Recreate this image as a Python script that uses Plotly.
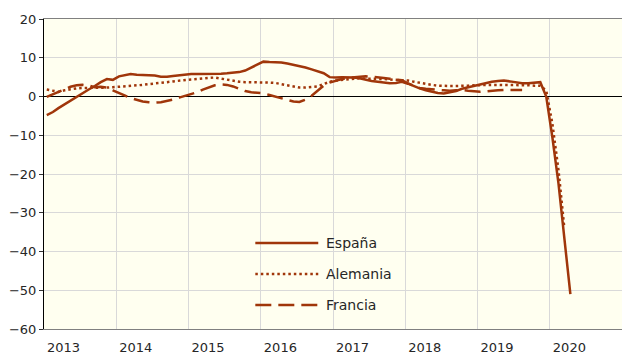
import pandas as pd
import plotly.graph_objects as go

# Monthly series, mid-month, from January 2013
espana = [
    -4.8, -4.0, -3.0, -2.0, -1.1, -0.1, 0.9, 1.8, 2.7, 3.7, 4.5, 4.3,
    5.2, 5.6, 5.8, 5.6, 5.5, 5.4, 5.4, 5.1, 5.1, 5.3, 5.5, 5.7,
    5.8, 5.8, 5.8, 5.8, 5.8, 5.9, 6.0, 6.1, 6.3, 6.7, 7.5, 8.4,
    9.0, 8.9, 8.9, 8.8, 8.5, 8.2, 7.8, 7.5, 7.0, 6.5, 6.0, 5.0,
    4.9, 5.0, 5.0, 4.9, 4.7, 4.3, 4.0, 3.8, 3.6, 3.4, 3.5, 3.8,
    3.3, 2.6, 2.1, 1.6, 1.2, 0.9, 0.8, 1.1, 1.4, 2.0, 2.4, 2.7,
    3.1, 3.5, 3.8, 4.0, 4.1, 3.9, 3.6, 3.4, 3.4, 3.5, 3.7, 0.0,
    -10.5, -22.5, -36.0, -51.0,
]
alemania = [
    1.8, 1.4, 1.2, 1.6, 1.9, 2.1, 2.2, 2.2, 2.3, 2.3, 2.3, 2.4,
    2.5, 2.7, 2.8, 2.9, 3.0, 3.2, 3.3, 3.5, 3.7, 3.9, 4.1, 4.3,
    4.4, 4.5, 4.7, 4.8, 4.9, 4.6, 4.3, 4.0, 3.8, 3.7, 3.7, 3.7,
    3.7, 3.6, 3.5, 3.2, 2.8, 2.5, 2.3, 2.3, 2.4, 2.6, 3.2, 3.8,
    4.1, 4.3, 4.5, 4.6, 4.7, 4.6, 4.6, 4.5, 4.5, 4.4, 4.3, 4.3,
    4.1, 3.8, 3.5, 3.2, 3.0, 2.8, 2.7, 2.7, 2.7, 2.7, 2.8, 2.9,
    3.0, 3.0, 3.0, 3.0, 3.0, 3.0, 3.0, 2.9, 2.9, 2.8, 2.8, 1.5,
    -7.0, -19.0, -33.7,
]
francia = [
    -0.1, 0.6, 1.3, 2.0, 2.5, 2.9, 3.0, 2.8, 2.4, 2.5, 2.3, 1.6,
    0.8, 0.2, -0.4, -0.9, -1.3, -1.5, -1.6, -1.5, -1.2, -0.8, -0.3, 0.1,
    0.5, 1.1, 1.8, 2.4, 2.9, 3.1, 3.0, 2.6, 2.0, 1.4, 1.1, 1.0,
    0.8, 0.4, 0.0, -0.4, -0.9, -1.3, -1.4, -0.8, 0.2, 1.6, 2.8, 3.6,
    4.1, 4.5, 4.8, 5.0, 5.1, 5.2, 5.1, 5.0, 4.8, 4.6, 4.4, 4.2,
    3.4, 2.7, 2.2, 2.0, 1.8, 1.7, 1.6, 1.5, 1.6, 1.7, 1.5, 1.3,
    1.2, 1.3, 1.5, 1.6, 1.7, 1.7, 1.7, 1.7,
]

series_names = ["España", "Alemania", "Francia"]
series_values = [espana, alemania, francia]
series_dash = ["solid", "2.5px,3px", "16px,7px"]

years = [2013, 2014, 2015, 2016, 2017, 2018, 2019, 2020]
year_labels = [str(y) for y in years]

COLOR = "#a0360a"
TEXT = "#262626"

n_months = max(len(v) for v in series_values)
months = pd.date_range("2013-01-01", periods=n_months, freq="MS") + pd.Timedelta(days=14)

fig = go.Figure()
for name, vals, dash in zip(series_names, series_values, series_dash):
    fig.add_trace(go.Scatter(
        x=months[:len(vals)], y=vals, name=name, mode="lines",
        line=dict(color=COLOR, width=2.5, dash=dash),
        showlegend=False,
    ))

# Hand-drawn legend inside the plot area with long line samples
leg_y = [0.2774, 0.1774, 0.0774]
for name, dash, yy in zip(series_names, series_dash, leg_y):
    fig.add_shape(type="line", xref="paper", yref="paper",
                  x0=0.3656, x1=0.4745, y0=yy, y1=yy,
                  line=dict(color=COLOR, width=2.5, dash=dash))
    fig.add_annotation(xref="paper", yref="paper", x=0.484, y=yy,
                       text=name, showarrow=False, xanchor="left", yanchor="middle",
                       font=dict(size=14, color=TEXT))

fig.update_layout(
    width=622, height=354,
    margin=dict(l=43.5, r=0, t=19, b=25),
    paper_bgcolor="white",
    plot_bgcolor="#fffff0",
    font=dict(family="DejaVu Sans", size=13, color=TEXT),
)
# Year labels sit in the early part of each year; gridlines mark year starts
fig.update_xaxes(
    type="date", range=["2013-01-01", "2021-01-01"],
    tickvals=[f"{y}-04-10" for y in years], ticktext=year_labels,
    showgrid=False,
    minor=dict(dtick="M12", tick0="2013-01-01", showgrid=True,
               gridcolor="#d9d9d9", gridwidth=1, ticks=""),
    showline=True, linecolor="#808080", linewidth=1, mirror=True,
    ticks="", ticklabelstandoff=6, tickfont=dict(size=13, color=TEXT),
)
fig.update_yaxes(
    range=[-60, 20], dtick=10, tick0=0,
    showgrid=True, gridcolor="#d9d9d9", gridwidth=1,
    zeroline=True, zerolinecolor="black", zerolinewidth=1,
    showline=True, linecolor="black", linewidth=1,
    ticks="outside", ticklen=4, tickcolor="#333333",
    tickfont=dict(size=13, color=TEXT),
)

fig.write_html("out.html")
